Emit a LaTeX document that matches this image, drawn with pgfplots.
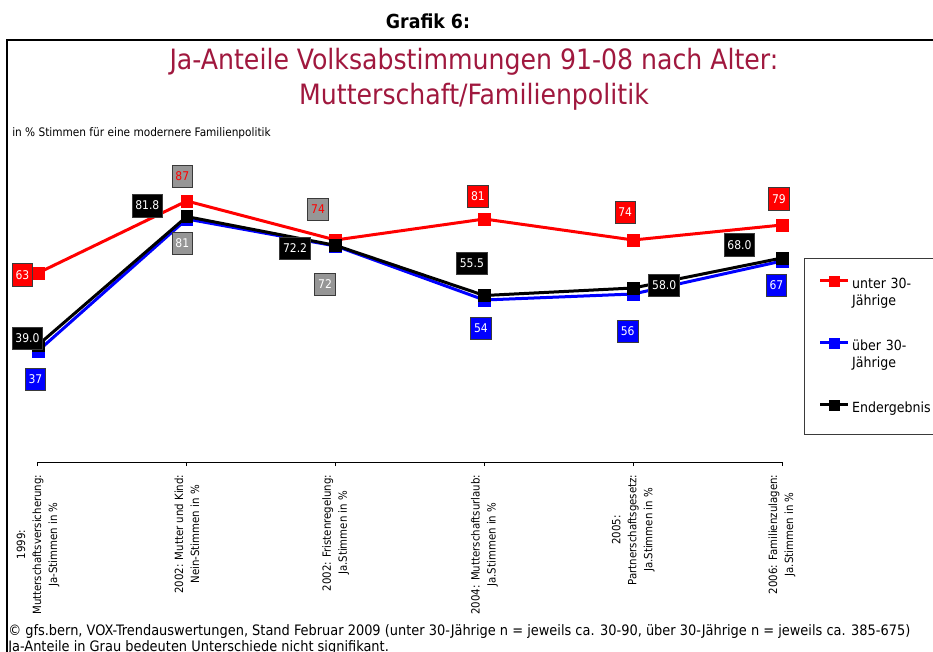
\documentclass[border=0pt]{standalone}
\usepackage{pgfplots}
\usepackage{pgfplotstable}
\pgfplotsset{compat=1.18}
\usepackage{fontspec}
\setmainfont{DejaVu Sans Condensed}
\definecolor{gfsred}{HTML}{FF0000}
\definecolor{gfsblue}{HTML}{0000FF}
\definecolor{gfsgrey}{HTML}{969696}
\definecolor{gfstitle}{HTML}{A0183E}
\definecolor{gfsframe}{HTML}{3A3A3A}
\newcommand{\fs}[2]{\fontsize{#1}{#2}\selectfont}

% dx / up = offset of the value box from its point, in px; g = 100 for grey (not significant)
\pgfplotstableread{
x y    dx     up     g
0 63   -15.5  -2     0
1 87   -4.5   24.5   100
2 74   -17.5  30.5   100
3 81   -6.5   22.5   0
4 74   -8     27.5   0
5 79   -3     26     0
}\unterdreissig
\pgfplotstableread{
x y    dx     up     g
0 37   -2.5   -28.5  0
1 81   -4.5   -24.5  100
2 72   -10.5  -38.5  100
3 54   -3.5   -28.5  0
4 56   -5.5   -37.5  0
5 67   -5.5   -24.5  0
}\uberdreissig
\pgfplotstableread{
x y    dx     up     g
0 39.0 -10.5  6.5    0
1 81.8 -39.5  11     0
2 72.2 -40.5  -3     0
3 55.5 -12.5  32     0
4 58.0 31     2.5    0
5 68.0 -42.5  13     0
}\endergebnis

\pgfplotsset{
  serie/.style={line width=2.25pt, mark=square*, mark size=4.4pt,
    mark options={solid, line width=0.4pt},
    nodes near coords, point meta=y,
    visualization depends on={\thisrow{dx}\as\dx},
    visualization depends on={\thisrow{up}\as\up},
    visualization depends on={\thisrow{g}\as\g},
    every node near coord/.append style={anchor=center,
      draw=gfsframe, line width=0.6pt, inner xsep=2.5pt, inner ysep=0pt,
      minimum height=17pt, minimum width=14pt, font=\fs{9}{10},
      xshift=\dx*0.75pt, yshift=\up*0.75pt},
  },
}

\begin{document}
\begin{tikzpicture}[x=0.75pt,y=0.75pt]
\useasboundingbox (0,0) rectangle (933,651);
\fill[white] (0,0) rectangle (933,651);
\draw[black, line width=1.5pt] (7,-10) -- (7,611) -- (945,611);
\node[font=\bfseries\fs{14.5}{16}] at (428,630) {Grafik 6:};
\node[text=gfstitle, align=center, font=\fs{21}{26.25}] at (474,572)
  {Ja-Anteile Volksabstimmungen 91-08 nach Alter:\\Mutterschaft/Familienpolitik};
\node[anchor=west, inner sep=0pt, font=\fs{8.8}{10}] at (12,518)
  {in \% Stimmen für eine modernere Familienpolitik};

\begin{axis}[
  at={(28.5pt,141.75pt)}, anchor=south west,
  scale only axis, width=558pt, height=225pt,
  xmin=0, xmax=5, ymin=0, ymax=100,
  clip=false,
  axis x line*=bottom, hide y axis,
  axis line style={black, line width=0.75pt},
  xtick={0,1,2,3,4,5},
  xticklabels={
    {1999:\\Mutterschaftsversicherung:\\Ja-Stimmen in \%},
    {2002: Mutter und Kind:\\Nein-Stimmen in \%},
    {2002: Fristenregelung:\\Ja.Stimmen in \%},
    {2004: Mutterschaftsurlaub:\\Ja.Stimmen in \%},
    {2005:\\Partnerschaftsgesetz:\\Ja.Stimmen in \%},
    {2006: Familienzulagen:\\Ja.Stimmen in \%}},
  x tick label style={rotate=90, anchor=east, align=center, font=\fs{8.5}{12}},
  xticklabel shift=3pt,
  tick align=outside, major tick length=3pt,
  tick style={black, line width=0.75pt},
  /pgf/number format/assume math mode=true,
  legend style={at={(1.0296,0.68)}, anchor=north west, draw=gfsframe,
    line width=0.75pt, fill=white, inner xsep=10.5pt, inner ysep=13pt,
    row sep={46.5pt,between origins}, column sep=0pt,
    cells={anchor=base west, align=left, inner xsep=2pt,
      font=\fs{10.5}{12.75}, text width=80pt}},
  legend image code/.code={\draw[mark repeat=2, mark phase=2, #1]
    plot coordinates {(0pt,6pt) (10.5pt,6pt) (21pt,6pt)};},
  legend image post style={mark size=3.8pt},
]
\addplot[serie, gfsred,
  every node near coord/.append style={fill=gfsgrey!\g!gfsred, text=gfsred!\g!white},
  nodes near coords={\pgfmathprintnumber[fixed,precision=0]{\pgfplotspointmeta}}]
  table[x=x, y=y] {\unterdreissig};
\addlegendentry{unter 30-\\Jährige}
\addplot[serie, gfsblue,
  every node near coord/.append style={fill=gfsgrey!\g!gfsblue, text=white},
  nodes near coords={\pgfmathprintnumber[fixed,precision=0]{\pgfplotspointmeta}}]
  table[x=x, y=y] {\uberdreissig};
\addlegendentry{über 30-\\Jährige}
\addplot[serie, black,
  every node near coord/.append style={fill=black, text=white},
  nodes near coords={\pgfmathprintnumber[fixed,fixed zerofill,precision=1]{\pgfplotspointmeta}}]
  table[x=x, y=y] {\endergebnis};
\addlegendentry{Endergebnis\rule[-14pt]{0pt}{0pt}}
\end{axis}

\node[anchor=base west, inner sep=0pt, font=\fs{10.8}{12}] at (8,16)
  {© gfs.bern, VOX-Trendauswertungen, Stand Februar 2009 (unter 30-Jährige n = jeweils ca. 30-90, über 30-Jährige n = jeweils ca. 385-675)};
\node[anchor=base west, inner sep=0pt, font=\fs{10.8}{12}] at (8,0)
  {Ja-Anteile in Grau bedeuten Unterschiede nicht signifikant.};
\end{tikzpicture}
\end{document}
